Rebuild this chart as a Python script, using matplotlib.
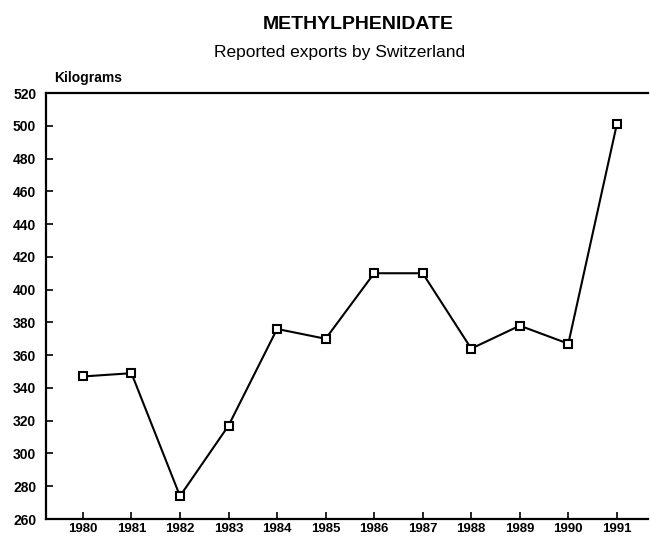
import matplotlib
matplotlib.use("Agg")
import matplotlib.pyplot as plt

plt.rcParams['font.family'] = ['Liberation Sans', 'DejaVu Sans']

years = [1980, 1981, 1982, 1983, 1984, 1985, 1986, 1987, 1988, 1989, 1990, 1991]
kilograms = [347, 349, 274, 317, 376, 370, 410, 410, 364, 378, 367, 501]
y_ticks = list(range(260, 521, 20))

fig = plt.figure(figsize=(6.5, 5.42), dpi=100)
ax = fig.add_axes([0.0708, 0.0424, 0.926, 0.786])

ax.plot(years, kilograms, color='black', linewidth=1.5, marker='s',
        markersize=6, markerfacecolor='white', markeredgecolor='black',
        markeredgewidth=1.5)

ax.set_xlim(1979.24, 1991.64)
ax.set_ylim(260, 520)
ax.set_xticks(years)
ax.set_yticks(y_ticks)
ax.tick_params(direction='in', length=5, width=1.2)
ax.tick_params(axis='x', labelsize=9.5, pad=3)
ax.tick_params(axis='y', labelsize=10, pad=7)
for lbl in ax.get_xticklabels() + ax.get_yticklabels():
    lbl.set_fontweight('bold')

ax.spines['right'].set_visible(False)
for s in ['left', 'bottom', 'top']:
    ax.spines[s].set_linewidth(1.6)

fig.text(0.551, 0.954, 'METHYLPHENIDATE', ha='center', va='center',
         fontsize=14, fontweight='bold')
fig.text(0.523, 0.904, 'Reported exports by Switzerland', ha='center',
         va='center', fontsize=12.5)
fig.text(0.084, 0.856, 'Kilograms', ha='left', va='center', fontsize=10,
         fontweight='bold')

fig.savefig('out.png', dpi=100)
